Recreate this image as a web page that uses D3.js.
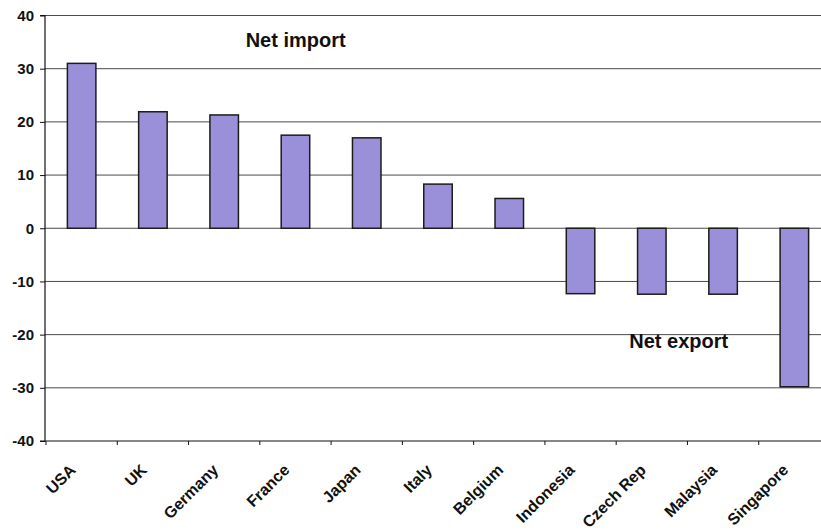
<!DOCTYPE html>
<html>
<head>
<meta charset="utf-8">
<script src="https://cdn.jsdelivr.net/npm/d3@7"></script>
<style>
  html, body { margin: 0; padding: 0; background: #fff; }
  svg { display: block; }
  text { font-family: "Liberation Sans", Arial, sans-serif; font-weight: bold; fill: #111; }
</style>
</head>
<body>
<svg id="chart" width="821" height="531"></svg>
<script>
const categories = ["USA", "UK", "Germany", "France", "Japan", "Italy", "Belgium", "Indonesia", "Czech Rep", "Malaysia", "Singapore"];
const values = [31.0, 21.9, 21.3, 17.5, 17.0, 8.3, 5.6, -12.3, -12.4, -12.4, -29.8];
const yTicks = [40, 30, 20, 10, 0, -10, -20, -30, -40];
const annotations = [
  { text: "Net import", cat: "UK", value: 34.0, dx: 107 },
  { text: "Net export", cat: "Indonesia", value: -22.5, dx: 63 }
];

(function () {
const svg = d3.select("#chart");
const W = 821, H = 531;
const mLeft = 45, mTop = 15.5, mBottom = 441, rightEnd = 830;

const y = d3.scaleLinear().domain([-40, 40]).range([mBottom, mTop]);
const x = d3.scaleBand().domain(categories).range([mLeft + 1, rightEnd])
  .paddingInner(0.6).paddingOuter(0.3);
const step = x.step();

// gridlines
svg.append("g").selectAll("line").data(yTicks.filter(d => d !== -40)).join("line")
  .attr("x1", mLeft).attr("x2", W)
  .attr("y1", d => y(d)).attr("y2", d => y(d))
  .attr("stroke", "#4a4a4a").attr("stroke-width", 1);

// bars
svg.append("g").selectAll("rect").data(categories).join("rect")
  .attr("x", d => x(d))
  .attr("width", x.bandwidth())
  .attr("y", (d, i) => y(Math.max(0, values[i])))
  .attr("height", (d, i) => Math.abs(y(values[i]) - y(0)))
  .attr("fill", "#9a8fd9")
  .attr("stroke", "#1c1c1c")
  .attr("stroke-width", 1.5);

// y axis
const yAxis = d3.axisLeft(y).tickValues(yTicks).tickSize(5).tickPadding(6).tickFormat(d => String(d));
const gy = svg.append("g").attr("transform", `translate(${mLeft},0)`).call(yAxis);
gy.select(".domain").attr("stroke", "#111").attr("stroke-width", 1.2).attr("d", `M-5,${mTop}H0V${mBottom}H-5`);
gy.selectAll(".tick line").attr("stroke", "#111");
gy.selectAll(".tick text").attr("font-size", 15).attr("font-family", "Liberation Sans, Arial, sans-serif")
  .attr("font-weight", "bold").attr("fill", "#111");

// x axis
const xAxis = d3.axisBottom(x).tickSize(4).tickFormat("");
const gx = svg.append("g").attr("transform", `translate(0,${mBottom})`).call(xAxis);
gx.select(".domain").attr("stroke", "#111").attr("stroke-width", 1.2).attr("d", `M${mLeft},0H${W}`);
gx.selectAll(".tick line").attr("stroke", "#111").attr("transform", `translate(${-step / 2},0)`);

// category labels
svg.append("g").selectAll("text").data(categories).join("text")
  .attr("transform", d => `translate(${x(d) + x.bandwidth() / 2 - 5},${mBottom + 30}) rotate(-45)`)
  .attr("text-anchor", "end")
  .attr("font-size", 16)
  .text(d => d);

// annotations
svg.append("g").selectAll("text").data(annotations).join("text")
  .attr("x", d => x(d.cat) + d.dx)
  .attr("y", d => y(d.value))
  .attr("font-size", 20)
  .text(d => d.text);
})();
</script>
</body>
</html>
